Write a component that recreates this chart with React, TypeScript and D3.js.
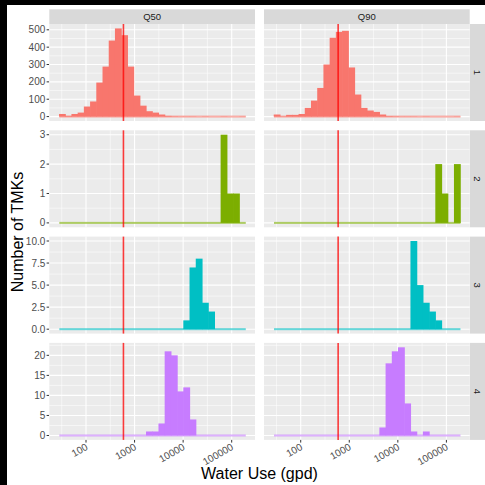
import React from 'react';
import * as d3 from 'd3';

// histogram bins on log10(gpd): 30 bins shared by every panel
const binStart = 1.45;
const binWidth = 0.128;
const binCount = 30;

const columns = ['Q50', 'Q90'];
const rows = ['1', '2', '3', '4'];
const fills = ['#F8766D', '#7CAE00', '#00BFC4', '#C77CFF'];

// counts per bin
const q50Row1 = [15, 4, 15, 23, 58, 87, 196, 288, 438, 508, 469, 288, 121, 63, 31, 23, 12, 4, 2, 1, 1, 1, 0, 1, 0, 0, 1, 0, 0, 1];
const q90Row1 = [12, 2, 10, 10, 15, 50, 92, 165, 300, 454, 488, 494, 283, 127, 50, 35, 27, 12, 3, 2, 1, 1, 1, 0, 1, 0, 0, 0, 0, 1];
const q50Row2 = [0, 0, 0, 0, 0, 0, 0, 0, 0, 0, 0, 0, 0, 0, 0, 0, 0, 0, 0, 0, 0, 0, 0, 0, 0, 0, 3, 1, 1, 0];
const q90Row2 = [0, 0, 0, 0, 0, 0, 0, 0, 0, 0, 0, 0, 0, 0, 0, 0, 0, 0, 0, 0, 0, 0, 0, 0, 0, 0, 2, 1, 0, 2];
const q50Row3 = [0, 0, 0, 0, 0, 0, 0, 0, 0, 0, 0, 0, 0, 0, 0, 0, 0, 0, 0, 0, 1, 7, 8, 3, 2, 0, 0, 0, 0, 0];
const q90Row3 = [0, 0, 0, 0, 0, 0, 0, 0, 0, 0, 0, 0, 0, 0, 0, 0, 0, 0, 0, 0, 0, 0, 10, 5, 3, 2, 1, 0, 0, 0];
const q50Row4 = [0, 0, 0, 0, 0, 0, 0, 0, 0, 0, 0, 0, 0, 0, 1, 1, 3, 21, 20, 11, 12, 4, 0, 0, 0, 0, 0, 0, 0, 0];
const q90Row4 = [0, 0, 0, 0, 0, 0, 0, 0, 0, 0, 0, 0, 0, 0, 0, 0, 0, 2, 18, 21, 22, 8, 1, 0, 1, 0, 0, 0, 0, 0];

const counts = [
  [q50Row1, q90Row1],
  [q50Row2, q90Row2],
  [q50Row3, q90Row3],
  [q50Row4, q90Row4],
];

const yTicks = [
  [0, 100, 200, 300, 400, 500],
  [0, 1, 2, 3],
  [0, 2.5, 5, 7.5, 10],
  [0, 5, 10, 15, 20],
];
const yTickLabels = [
  ['0', '100', '200', '300', '400', '500'],
  ['0', '1', '2', '3'],
  ['0.0', '2.5', '5.0', '7.5', '10.0'],
  ['0', '5', '10', '15', '20'],
];

const xTicks = [100, 1000, 10000, 100000];
const xTickLabels = ['100', '1000', '10000', '100000'];
const refLine = 590;

const W = 485;
const H = 485;
const panelLeft = 49.3;
const panelW = 205.7;
const colGap = 9;
const panelTop = 24;
const panelH = 97;
const rowGap = 9.3;
const font = 'Liberation Sans, Arial, Helvetica, sans-serif';

export default function App() {
  const edges = d3.range(binCount + 1).map(i => Math.pow(10, binStart + i * binWidth));
  const x = d3.scaleLog().domain([Math.pow(10, 1.244), Math.pow(10, 5.48)]).range([0, panelW]);
  const [xd0, xd1] = x.domain();
  const xMinor = [10, ...xTicks]
    .map(v => Math.sqrt(v * v * 10))
    .filter(v => v > xd0 && v < xd1);

  return (
    <svg width={W} height={H} style={{ position: 'absolute', left: 0, top: 0 }}>
      <rect width={W} height={H} fill="#000" />
      <rect x={7} y={5} width={W - 7} height={H - 5} fill="#fff" />

      {columns.map((c, ci) => {
        const px = panelLeft + ci * (panelW + colGap);
        return (
          <g key={c} transform={`translate(${px},9.3)`}>
            <rect width={panelW} height={panelTop - 9.3} fill="#D9D9D9" />
            <text x={panelW / 2} y={(panelTop - 9.3) / 2} dy="0.35em" textAnchor="middle"
              fontSize={9.5} fontFamily={font} fill="#1A1A1A">{c}</text>
          </g>
        );
      })}

      {rows.map((r, ri) => {
        const py = panelTop + ri * (panelH + rowGap);
        const m = d3.max(counts[ri].flat()) as number;
        const y = d3.scaleLinear().domain([-0.05 * m, 1.05 * m]).range([panelH, 0]);
        const ticks = yTicks[ri];
        const step = ticks[1] - ticks[0];
        const yMinor = [...ticks, ticks[ticks.length - 1] + step]
          .map(t => t - step / 2)
          .filter(t => t > y.domain()[0] && t < y.domain()[1]);

        return (
          <g key={r}>
            {/* right strip */}
            <g transform={`translate(${panelLeft + 2 * panelW + colGap},${py})`}>
              <rect width={16} height={panelH} fill="#D9D9D9" />
              <text transform={`translate(7.5,${panelH / 2}) rotate(90)`} dy="0.35em" textAnchor="middle"
                fontSize={9.5} fontFamily={font} fill="#1A1A1A">{r}</text>
            </g>

            {/* y axis */}
            {ticks.map((t, ti) => (
              <g key={t} transform={`translate(${panelLeft},${py + y(t)})`}>
                <line x1={-2.7} x2={0} stroke="#333" strokeWidth={1} />
                <text x={-4} dy="0.35em" textAnchor="end" fontSize={10} fontFamily={font} fill="#4D4D4D">
                  {yTickLabels[ri][ti]}
                </text>
              </g>
            ))}

            {columns.map((c, ci) => {
              const px = panelLeft + ci * (panelW + colGap);
              const data = counts[ri][ci];
              return (
                <g key={c} transform={`translate(${px},${py})`}>
                  <rect width={panelW} height={panelH} fill="#EBEBEB" />
                  {yMinor.map(t => (
                    <line key={'ym' + t} x1={0} x2={panelW} y1={y(t)} y2={y(t)} stroke="#fff" strokeWidth={0.55} />
                  ))}
                  {xMinor.map(v => (
                    <line key={'xm' + v} x1={x(v)} x2={x(v)} y1={0} y2={panelH} stroke="#fff" strokeWidth={0.55} />
                  ))}
                  {ticks.map(t => (
                    <line key={'yM' + t} x1={0} x2={panelW} y1={y(t)} y2={y(t)} stroke="#fff" strokeWidth={1.1} />
                  ))}
                  {xTicks.map(v => (
                    <line key={'xM' + v} x1={x(v)} x2={x(v)} y1={0} y2={panelH} stroke="#fff" strokeWidth={1.1} />
                  ))}

                  {/* zero-height bins show as a faint baseline */}
                  <rect x={x(edges[0])} width={x(edges[binCount]) - x(edges[0])} y={y(0) - 1} height={2}
                    fill={fills[ri]} opacity={0.6} />
                  {data.map((v, i) => v > 0 && (
                    <rect key={i} x={x(edges[i]) - 0.3} width={x(edges[i + 1]) - x(edges[i]) + 0.6}
                      y={y(v)} height={y(0) - y(v)} fill={fills[ri]} />
                  ))}

                  <line x1={x(refLine)} x2={x(refLine)} y1={0} y2={panelH} stroke="#FF0000" strokeWidth={1.6} opacity={0.75} />

                  {ri === rows.length - 1 && xTicks.map((v, ti) => (
                    <g key={'xt' + v} transform={`translate(${x(v)},${panelH})`}>
                      <line y1={0} y2={2.7} stroke="#333" strokeWidth={1} />
                      <text transform="translate(2.5,9) rotate(-30)" textAnchor="end" fontSize={10}
                        fontFamily={font} fill="#4D4D4D">{xTickLabels[ti]}</text>
                    </g>
                  ))}
                </g>
              );
            })}
          </g>
        );
      })}

      <text x={panelLeft + panelW + colGap / 2} y={479} textAnchor="middle" fontSize={16} fontFamily={font} fill="#000">
        Water Use (gpd)
      </text>
      <text transform={`translate(23,${panelTop + (4 * panelH + 3 * rowGap) / 2}) rotate(-90)`} textAnchor="middle"
        fontSize={16} fontFamily={font} fill="#000">
        Number of TMKs
      </text>
    </svg>
  );
}
